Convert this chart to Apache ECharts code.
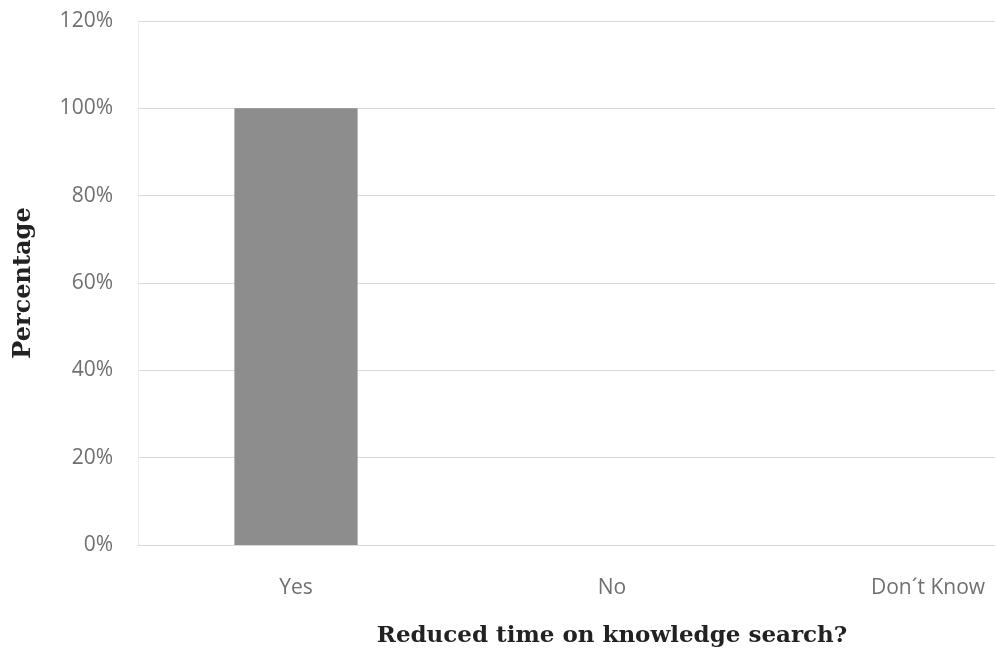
<!DOCTYPE html>
<html lang="en">
<head>
    <meta charset="UTF-8" />
    <title>Reduced time on knowledge search?</title>
    <script src="https://cdn.jsdelivr.net/npm/echarts@6/dist/echarts.min.js"></script>
    <style>
        html, body { margin: 0; padding: 0; background: #fff; overflow: hidden; }
        /* the plot runs past the right edge of the picture, so the canvas is wider than the window */
        #chart { width: 1100px; height: 656px; }
    </style>
</head>
<body>
<div id="chart"></div>
<script>
    // categories and answer shares (%)
    const categories = ['Yes', 'No', "Don\u00B4t Know"];
    const percentages = [100, 0, 0];
    const yTicks = [0, 20, 40, 60, 80, 100, 120];

    const chart = echarts.init(document.getElementById('chart'));

    const option = {
        animation: false,
        grid: { left: 138, top: 21, right: 14, bottom: 111 },
        xAxis: {
            type: 'category',
            data: categories,
            name: 'Reduced time on knowledge search?',
            nameLocation: 'middle',
            nameGap: 80,
            nameTextStyle: { fontFamily: 'DejaVu Serif', fontWeight: 'bold', fontSize: 23, color: '#222' },
            axisLine: { lineStyle: { color: '#d8d8d8' } },
            axisTick: { show: false },
            axisLabel: { margin: 33, fontFamily: 'Open Sans', fontSize: 21, color: '#707070' }
        },
        yAxis: {
            type: 'value',
            min: yTicks[0],
            max: yTicks[yTicks.length - 1],
            interval: 20,
            name: 'Percentage',
            nameLocation: 'middle',
            nameGap: 102,
            nameTextStyle: { fontFamily: 'DejaVu Serif', fontWeight: 'bold', fontSize: 24, color: '#222' },
            axisLine: { show: true, lineStyle: { color: '#ececec' } },
            axisTick: { show: false },
            splitLine: { lineStyle: { color: '#d8d8d8', width: 1 } },
            axisLabel: { margin: 25, fontFamily: 'Open Sans', fontSize: 21, color: '#707070', formatter: '{value}%' }
        },
        series: [{
            type: 'bar',
            data: percentages,
            barWidth: '39%',
            itemStyle: { color: '#8d8d8d' }
        }]
    };

    chart.setOption(option);
</script>
</body>
</html>
